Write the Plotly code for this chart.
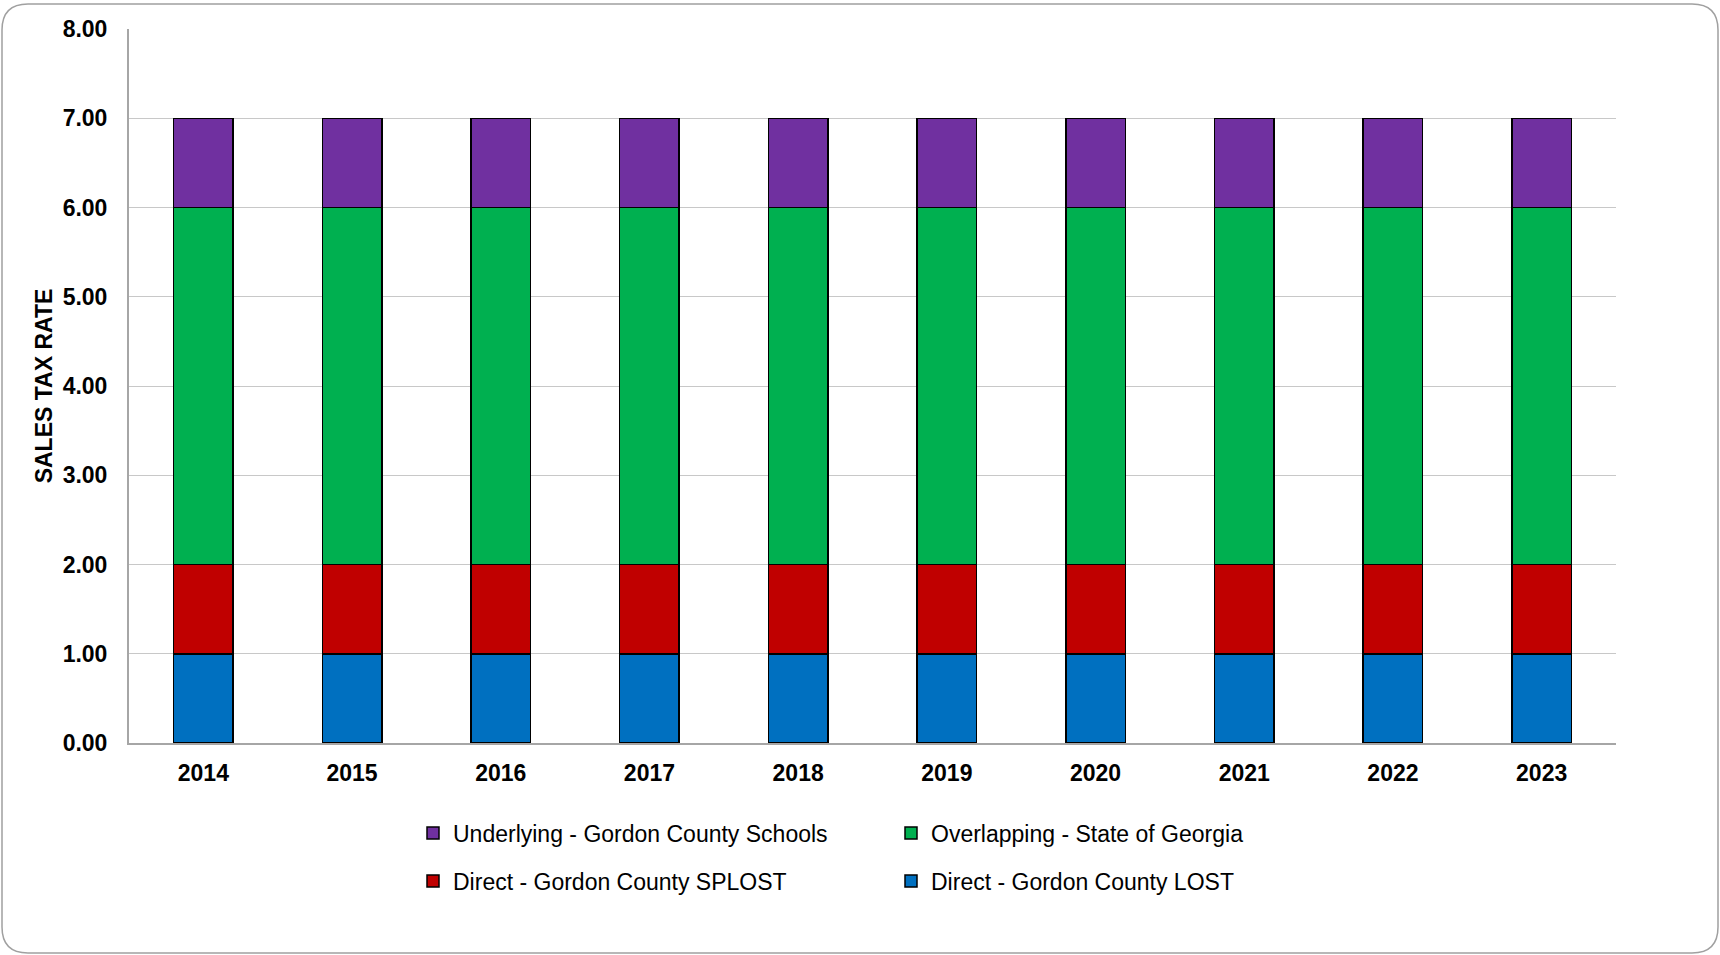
import plotly.graph_objects as go

# Sales tax rate components by fiscal year
years = ["2014", "2015", "2016", "2017", "2018", "2019", "2020", "2021", "2022", "2023"]
lost_rate = [1.00, 1.00, 1.00, 1.00, 1.00, 1.00, 1.00, 1.00, 1.00, 1.00]
splost_rate = [1.00, 1.00, 1.00, 1.00, 1.00, 1.00, 1.00, 1.00, 1.00, 1.00]
state_rate = [4.00, 4.00, 4.00, 4.00, 4.00, 4.00, 4.00, 4.00, 4.00, 4.00]
schools_rate = [1.00, 1.00, 1.00, 1.00, 1.00, 1.00, 1.00, 1.00, 1.00, 1.00]

series = [
    ("Direct - Gordon County LOST", lost_rate, "#0070C0", "legend2"),
    ("Direct - Gordon County SPLOST", splost_rate, "#C00000", "legend2"),
    ("Overlapping - State of Georgia", state_rate, "#00B050", "legend"),
    ("Underlying - Gordon County Schools", schools_rate, "#7030A0", "legend"),
]

W, H = 1720, 955
ML, MR, MT, MB = 129, 104, 29, 212
PW, PH = W - ML - MR, H - MT - MB

FONT = "Liberation Sans, Arial, sans-serif"

fig = go.Figure()
for name, vals, color, leg in series:
    fig.add_trace(go.Bar(
        x=years, y=vals, name=name,
        marker=dict(color=color, line=dict(color="#000000", width=1.5)),
        legend=leg,
    ))


def px_x(x):
    return (x - ML) / PW


def px_y(y):
    return (H - MB - y) / PH


# rounded frame around the whole figure
x0, y0, x1, y1, r = 2, 4, 1718, 953, 26
path = (
    f"M {px_x(x0 + r)},{px_y(y0)} L {px_x(x1 - r)},{px_y(y0)} "
    f"Q {px_x(x1)},{px_y(y0)} {px_x(x1)},{px_y(y0 + r)} "
    f"L {px_x(x1)},{px_y(y1 - r)} "
    f"Q {px_x(x1)},{px_y(y1)} {px_x(x1 - r)},{px_y(y1)} "
    f"L {px_x(x0 + r)},{px_y(y1)} "
    f"Q {px_x(x0)},{px_y(y1)} {px_x(x0)},{px_y(y1 - r)} "
    f"L {px_x(x0)},{px_y(y0 + r)} "
    f"Q {px_x(x0)},{px_y(y0)} {px_x(x0 + r)},{px_y(y0)} Z"
)

legend_common = dict(
    orientation="h", traceorder="reversed", xanchor="left", yanchor="middle",
    bgcolor="rgba(0,0,0,0)", entrywidth=433, entrywidthmode="pixels",
    font=dict(family=FONT, size=23, color="#000000"),
)

fig.update_layout(
    width=W, height=H,
    margin=dict(l=ML, r=MR, t=MT, b=MB, autoexpand=False),
    paper_bgcolor="#FFFFFF", plot_bgcolor="#FFFFFF",
    barmode="stack", bargap=0.6,
    showlegend=True,
    legend=dict(x=px_x(413), y=px_y(833), **legend_common),
    legend2=dict(x=px_x(413), y=px_y(881), **legend_common),
    xaxis=dict(
        showgrid=False, showline=True, linecolor="#A6A6A6", linewidth=2,
        ticks="", ticklabelstandoff=8,
        tickfont=dict(family=FONT, size=23, color="#000000", weight="bold"),
    ),
    yaxis=dict(
        range=[0, 8], dtick=1, tickformat=".2f",
        showgrid=True, gridcolor="#C8C8C8", gridwidth=1,
        showline=True, linecolor="#A6A6A6", linewidth=2,
        zeroline=False, ticks="", ticklabelstandoff=15,
        tickfont=dict(family=FONT, size=23, color="#000000", weight="bold"),
        title=dict(text="SALES TAX RATE", standoff=4,
                   font=dict(family=FONT, size=23, color="#000000", weight="bold")),
    ),
    shapes=[dict(type="path", path=path, xref="paper", yref="paper",
                 line=dict(color="#A0A0A0", width=1.5), fillcolor="rgba(0,0,0,0)",
                 layer="below")],
)

fig.write_html("out.html")
